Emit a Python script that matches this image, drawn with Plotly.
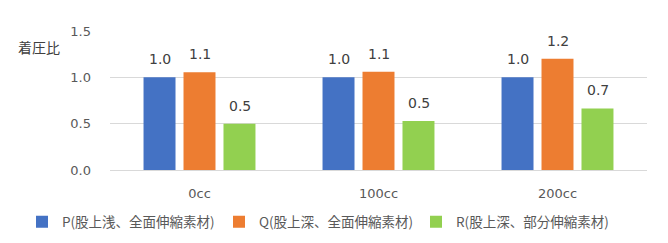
import plotly.graph_objects as go

categories = ["0cc", "100cc", "200cc"]
series_names = ["P(股上浅、全面伸縮素材)", "Q(股上深、全面伸縮素材)", "R(股上深、部分伸縮素材)"]
p_values = [1.0, 1.0, 1.0]
q_values = [1.055, 1.06, 1.2]
r_values = [0.5, 0.53, 0.665]
colors = ["#4472C4", "#ED7D31", "#92D050"]
y_ticks = [0.0, 0.5, 1.0, 1.5]

font_txt = "DejaVu Sans, Verdana, sans-serif"
font_cjk = "Noto Sans CJK JP, sans-serif"

fig = go.Figure()
annotations = []
all_vals = [p_values, q_values, r_values]
for i, (name, vals, col) in enumerate(zip(series_names, all_vals, colors)):
    fig.add_trace(go.Bar(
        x=categories, y=vals, name=name, marker=dict(color=col, line=dict(width=0)),
    ))
    for c, v in zip(categories, vals):
        annotations.append(dict(
            x=c, y=v, xref="x", yref="y", text=f"{v:.1f}", showarrow=False,
            xshift=(i - 1) * 40, yshift=8, yanchor="bottom",
            font=dict(family=font_txt, size=14, color="#404040")))

annotations.append(dict(text="着圧比", xref="paper", yref="paper", x=-0.09, y=0.885,
                        xanchor="right", yanchor="middle", showarrow=False,
                        font=dict(family=font_cjk, size=14, color="#404040")))

fig.update_layout(
    width=668, height=243,
    margin=dict(l=110, r=21, t=31, b=73, autoexpand=False),
    paper_bgcolor="white", plot_bgcolor="white",
    barmode="group", bargap=0.33, bargroupgap=0.2,
    showlegend=True,
    legend=dict(orientation="h", xref="paper", yref="paper",
                x=(22 - 110) / 537, xanchor="left", y=(170 - 222) / 139, yanchor="middle",
                font=dict(family=font_cjk, size=13.5, color="#595959"),
                itemwidth=30, entrywidth=152, tracegroupgap=0),
    xaxis=dict(showgrid=False, showline=False, ticks="", ticklabelstandoff=14,
               tickfont=dict(family=font_txt, size=13, color="#595959")),
    yaxis=dict(range=[0, 1.5], tickvals=y_ticks, ticktext=[f"{t:.1f}" for t in y_ticks],
               showgrid=True, gridcolor="#D9D9D9", gridwidth=1, zeroline=True,
               zerolinecolor="#D9D9D9", zerolinewidth=1, showline=False, ticks="",
               ticklabelstandoff=18,
               tickfont=dict(family=font_txt, size=13, color="#595959")),
    annotations=annotations,
)

fig.write_html("out.html")
